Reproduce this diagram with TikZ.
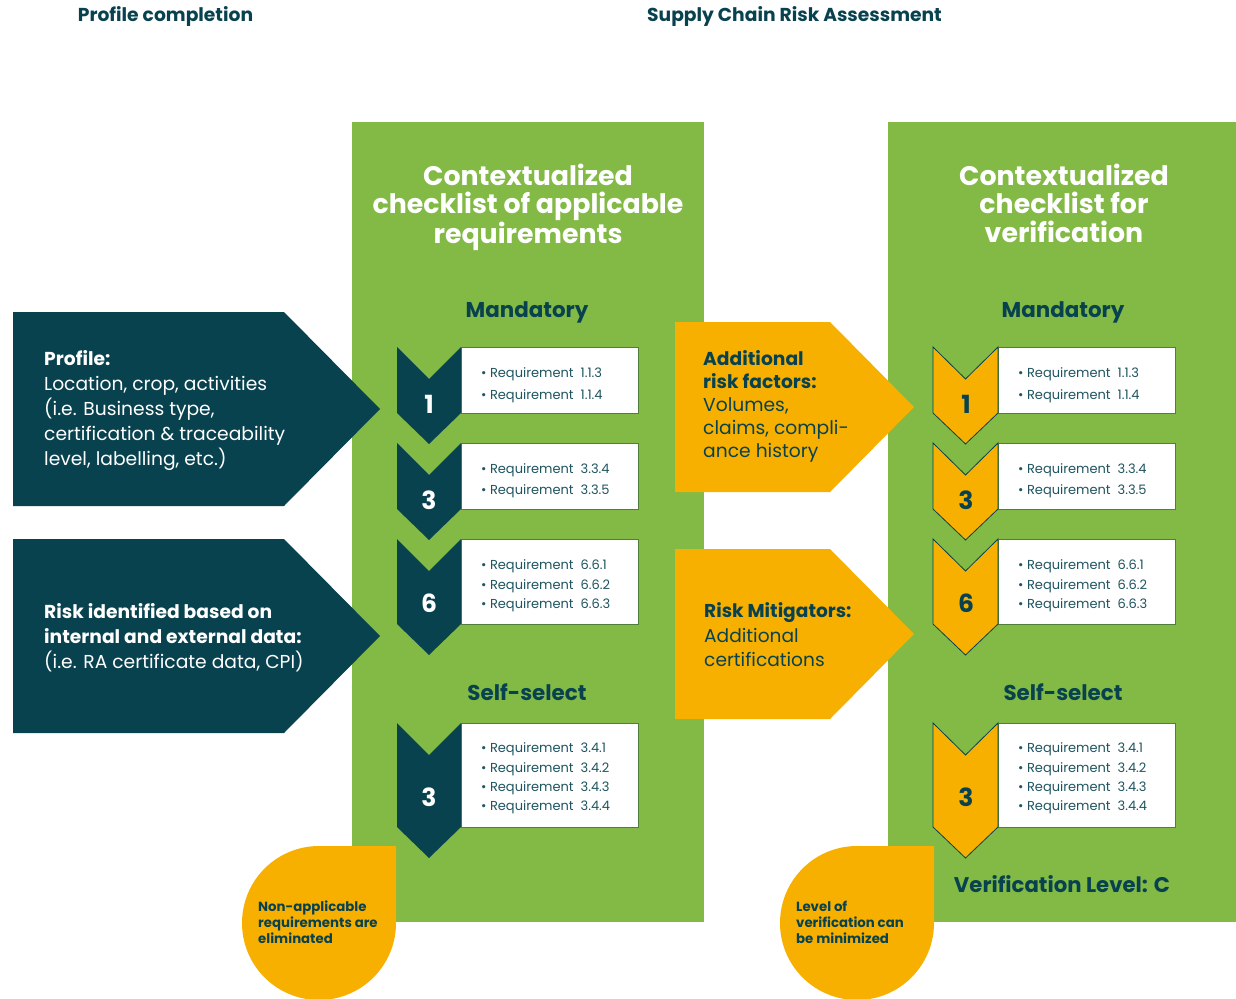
\documentclass[tikz,border=0pt]{standalone}
\usepackage{fontspec}
\setmainfont{Poppins}
\definecolor{grn}{HTML}{82BA45}
\definecolor{dteal}{HTML}{08424F}
\definecolor{orng}{HTML}{F8B000}
\definecolor{reqtxt}{HTML}{1F5560}
\definecolor{boxedge}{HTML}{4F7F3A}
\newcommand\mychev[6]{% x0, x1, top, side, fill, draw
  \path[fill=#5,#6] (#1,#3) -- ({(#1+#2)/2},#3+32) -- (#2,#3) -- (#2,#4) -- ({(#1+#2)/2},#4+31) -- (#1,#4) -- cycle;}
\begin{document}
\begin{tikzpicture}[x=1pt,y=-1pt,
  hdr/.style={font=\bfseries\fontsize{18.7}{22}\selectfont,text=dteal,inner sep=0pt},
  title/.style={font=\bfseries\fontsize{26.8}{28.5}\selectfont,text=white,align=center,inner sep=0pt},
  sub/.style={font=\bfseries\fontsize{21.4}{24}\selectfont,text=dteal,inner sep=0pt,anchor=base},
  reqbox/.style={fill=white,draw=boxedge,line width=0.6pt},
  reqs/.style={font=\fontsize{13}{#1}\selectfont,text=reqtxt,align=left,anchor=west,inner sep=0pt},
  numL/.style={font=\bfseries\fontsize{25}{28}\selectfont,text=white,inner sep=0pt},
  numR/.style={font=\bfseries\fontsize{25}{28}\selectfont,text=dteal,inner sep=0pt},
  side/.style={font=\fontsize{18.7}{25}\selectfont,text=white,align=left,anchor=west,inner sep=0pt},
  sideO/.style={font=\fontsize{18.7}{23}\selectfont,text=dteal,align=left,anchor=west,inner sep=0pt},
  drop/.style={font=\bfseries\fontsize{13.3}{16}\selectfont,text=dteal,align=left,anchor=west,inner sep=0pt}]
\useasboundingbox (0,0) rectangle (1236,998);
\fill[white] (0,0) rectangle (1236,998);
% headers
\node[hdr] (h1) at (165.5,16) {Profile completion};
\node[hdr] (h2) at (794.5,16) {Supply Chain Risk Assessment};
% panels
\fill[grn] (352,122) rectangle (704,922);
\fill[grn] (888,122) rectangle (1236,922);
\node[title] (t1) at (528,207) {Contextualized\\checklist of applicable\\requirements};
\node[title] (t2) at (1064,203) {Contextualized\\checklist for\\verification};
\node[sub] (m1) at (527,317.5) {Mandatory};
\node[sub] (m2) at (1063,317.5) {Mandatory};
\node[sub] (s1) at (527,700.5) {Self-select};
\node[sub] (s2) at (1063,700.5) {Self-select};
\node[sub,font=\bfseries\fontsize{21.2}{24}\selectfont] (vl) at (1062,892.5) {Verification Level: C};
% left arrows
\fill[dteal] (13,312) -- (284,312) -- (380,409) -- (284,506) -- (13,506) -- cycle;
\fill[dteal] (13,539) -- (284,539) -- (380,636) -- (284,733) -- (13,733) -- cycle;
\node[side] (p1) at (44,411) {\textbf{Profile:}\\Location, crop, activities\\(i.e. Business type,\\certification \& traceability\\level, labelling, etc.)};
\node[side] (p2) at (44,637.5) {\textbf{Risk identified based on}\\\textbf{internal and external data:}\\(i.e. RA certificate data, CPI)};
% middle arrows
\fill[orng] (675,322) -- (830,322) -- (914,407) -- (830,492) -- (675,492) -- cycle;
\fill[orng] (675,549) -- (830,549) -- (914,634) -- (830,719) -- (675,719) -- cycle;
\node[sideO] (a1) at (703,406) {\textbf{Additional}\\\textbf{risk factors:}\\Volumes,\\claims, compli-\\ance history};
\node[sideO,font=\fontsize{18.6}{24.5}\selectfont] (a2) at (704,635) {\textbf{Risk Mitigators:}\\Additional\\certifications};
% left chevrons and boxes
\fill[reqbox] (461,347) rectangle (638,413);
\fill[reqbox] (461,443) rectangle (638,509);
\fill[reqbox] (461,539) rectangle (638,624);
\fill[reqbox] (461,723) rectangle (638,827);
\mychev{397}{461}{347}{413}{dteal}{}
\mychev{397}{461}{443}{509}{dteal}{}
\mychev{397}{461}{539}{624}{dteal}{}
\mychev{397}{461}{723}{827}{dteal}{}
\node[numL] (nl1) at (429,404) {1};
\node[numL] (nl2) at (429,500) {3};
\node[numL] (nl3) at (429,603) {6};
\node[numL] (nl4) at (429,797) {3};
\node[reqs=22] (rl1) at (481,385) {• Requirement\ \ 1.1.3\\• Requirement\ \ 1.1.4};
\node[reqs=21] (rl2) at (481,481) {• Requirement\ \ 3.3.4\\• Requirement\ \ 3.3.5};
\node[reqs=19.5] (rl3) at (481,586) {• Requirement\ \ 6.6.1\\• Requirement\ \ 6.6.2\\• Requirement\ \ 6.6.3};
\node[reqs=19.3] (rl4) at (481,778.5) {• Requirement\ \ 3.4.1\\• Requirement\ \ 3.4.2\\• Requirement\ \ 3.4.3\\• Requirement\ \ 3.4.4};
% right chevrons and boxes
\fill[reqbox] (998,347) rectangle (1175,413);
\fill[reqbox] (998,443) rectangle (1175,509);
\fill[reqbox] (998,539) rectangle (1175,624);
\fill[reqbox] (998,723) rectangle (1175,827);
\mychev{933}{998}{347}{413}{orng}{draw=dteal,line width=0.8pt,line join=miter}
\mychev{933}{998}{443}{509}{orng}{draw=dteal,line width=0.8pt,line join=miter}
\mychev{933}{998}{539}{624}{orng}{draw=dteal,line width=0.8pt,line join=miter}
\mychev{933}{998}{723}{827}{orng}{draw=dteal,line width=0.8pt,line join=miter}
\node[numR] (nr1) at (966,404) {1};
\node[numR] (nr2) at (966,500) {3};
\node[numR] (nr3) at (966,603) {6};
\node[numR] (nr4) at (966,797) {3};
\node[reqs=22] (rr1) at (1018,385) {• Requirement\ \ 1.1.3\\• Requirement\ \ 1.1.4};
\node[reqs=21] (rr2) at (1018,481) {• Requirement\ \ 3.3.4\\• Requirement\ \ 3.3.5};
\node[reqs=19.5] (rr3) at (1018,586) {• Requirement\ \ 6.6.1\\• Requirement\ \ 6.6.2\\• Requirement\ \ 6.6.3};
\node[reqs=19.3] (rr4) at (1018,778.5) {• Requirement\ \ 3.4.1\\• Requirement\ \ 3.4.2\\• Requirement\ \ 3.4.3\\• Requirement\ \ 3.4.4};
% droplets
\fill[orng] (319,846) -- (396,846) -- (396,923) arc[start angle=0,end angle=270,radius=77] -- cycle;
\fill[orng] (857,846) -- (934,846) -- (934,923) arc[start angle=0,end angle=270,radius=77] -- cycle;
\node[drop] (d1) at (258,922) {Non-applicable\\requirements are\\eliminated};
\node[drop] (d2) at (796,922) {Level of\\verification can\\be minimized};
\end{tikzpicture}
\end{document}
